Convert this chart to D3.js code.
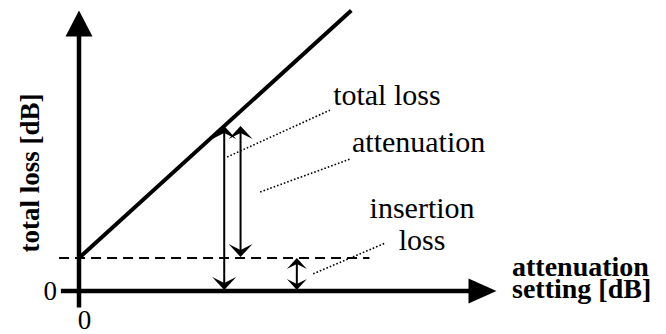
<!DOCTYPE html>
<html>
<head>
<meta charset="utf-8">
<script src="https://cdn.jsdelivr.net/npm/d3@7"></script>
</head>
<body style="margin:0; background:#fff">
<svg id="chart" width="666" height="334"></svg>
<script>
const WIDTH = 666;
const HEIGHT = 334;
const FONT = '"Liberation Serif", "Times New Roman"';

// values (attenuation setting in dB on x, total loss in dB on y)
const insertionLoss = 1;
const settingRange = [0, 7.5];          // extent of the total loss line
const axisExtentX = [-0.5, 11.5];
const axisExtentY = [-0.5, 8.5];
const xTicks = [0];
const yTicks = [0];
const dashedExtent = [-0.55, 8.0];      // insertion loss level line
const totalArrowAt = 4;                 // setting where total loss is shown
const attenArrowAt = 4.45;              // attenuation arrow, offset beside it
const insertionArrowAt = 6;

// annotation leaders: [from, to] in data units
const leaders = [
  [[4.08, 4.06], [6.91, 5.48]],
  [[4.99, 3.0], [7.47, 4.0]],
  [[6.45, 0.52], [8.43, 1.45]]
];
const labels = [
  { text: "total loss", at: [7.0, 5.64], anchor: "start" },
  { text: "attenuation", at: [7.52, 4.21], anchor: "start" },
  { text: "insertion", at: [9.45, 2.21], anchor: "middle" },
  { text: "loss", at: [9.45, 1.24], anchor: "middle" }
];

const svg = d3.select("#chart");

const xScale = d3.scaleLinear().domain([0, 11.5]).range([79, 496.5]);
const yScale = d3.scaleLinear().domain([0, 8.5]).range([291, 10.5]);

const line = d3.line().x((d) => xScale(d[0])).y((d) => yScale(d[1]));

// arrowhead shape, tip at origin pointing down
const head = (w, l, n) => `M0,0 L${-w},${-l} L0,${-n} L${w},${-l} Z`;

// insertion loss dashed level
svg.append("path")
  .attr("d", line([[dashedExtent[0], insertionLoss], [dashedExtent[1], insertionLoss]]))
  .attr("stroke", "#000").attr("stroke-width", 2)
  .attr("stroke-dasharray", "10,6").attr("fill", "none");

// total loss = insertion loss + setting
svg.append("path")
  .attr("d", line(settingRange.map((s) => [s, insertionLoss + s])))
  .attr("stroke", "#000").attr("stroke-width", 4).attr("fill", "none");

// axes lines with arrow tips
const xTip = xScale(axisExtentX[1]);
const yTip = yScale(axisExtentY[1]);
svg.append("line")
  .attr("x1", xScale(axisExtentX[0])).attr("x2", xTip - 26)
  .attr("y1", yScale(0)).attr("y2", yScale(0))
  .attr("stroke", "#000").attr("stroke-width", 4.5);
svg.append("path")
  .attr("d", `M${xTip},${yScale(0)} L${xTip - 28},${yScale(0) - 12.5} L${xTip - 28},${yScale(0) + 12.5} Z`);
svg.append("line")
  .attr("x1", xScale(0)).attr("x2", xScale(0))
  .attr("y1", yScale(axisExtentY[0])).attr("y2", yTip + 24)
  .attr("stroke", "#000").attr("stroke-width", 4.5);
svg.append("path")
  .attr("d", `M${xScale(0)},${yTip} L${xScale(0) - 13.5},${yTip + 26} L${xScale(0) + 13.5},${yTip + 26} Z`);

// tick labels
const xAxis = d3.axisBottom(xScale).tickValues(xTicks).tickSize(0).tickPadding(19);
const yAxis = d3.axisLeft(yScale).tickValues(yTicks).tickSize(0).tickPadding(22);
const gx = svg.append("g").attr("transform", `translate(0,${yScale(0)})`).call(xAxis);
const gy = svg.append("g").attr("transform", `translate(${xScale(0)},0)`).call(yAxis);
[gx, gy].forEach((g) => {
  g.attr("font-family", null);
  g.select(".domain").remove();
  g.selectAll("text").attr("font-size", 27).style("font-family", FONT);
});
gx.selectAll("text").attr("dx", 5);

// double arrows
const doubleArrow = (s, from, to, w, l, n) => {
  const x = xScale(s);
  const y1 = yScale(to);
  const y2 = yScale(from);
  svg.append("line")
    .attr("x1", x).attr("x2", x).attr("y1", y1 + 4).attr("y2", y2 - 4)
    .attr("stroke", "#000").attr("stroke-width", 2);
  svg.append("path").attr("d", head(w, l, n))
    .attr("transform", `translate(${x},${y2 - 1})`);
  svg.append("path").attr("d", head(w, l, n))
    .attr("transform", `translate(${x},${y1}) rotate(180)`);
};
doubleArrow(totalArrowAt, 0, insertionLoss + totalArrowAt, 12, 13, 7);
doubleArrow(attenArrowAt, insertionLoss, insertionLoss + totalArrowAt, 12, 13, 7);
doubleArrow(insertionArrowAt, 0, insertionLoss, 10, 11, 6);

// leader lines
svg.selectAll(".leader")
  .data(leaders)
  .enter()
  .append("path")
  .attr("class", "leader")
  .attr("d", (d) => line(d))
  .attr("stroke", "#000").attr("stroke-width", 1.6)
  .attr("stroke-dasharray", "1.6,2").attr("fill", "none");

svg.selectAll(".label")
  .data(labels)
  .enter()
  .append("text")
  .attr("class", "label")
  .attr("x", (d) => xScale(d.at[0]))
  .attr("y", (d) => yScale(d.at[1]))
  .attr("text-anchor", (d) => d.anchor)
  .attr("font-size", 30)
  .style("font-family", FONT)
  .text((d) => d.text);

// axis titles
svg.append("text")
  .attr("transform", "translate(39,173) rotate(-90)")
  .attr("text-anchor", "middle")
  .attr("font-size", 27)
  .attr("font-weight", "bold")
  .style("font-family", FONT)
  .text("total loss [dB]");

const xTitle = svg.append("text")
  .attr("font-size", 28)
  .attr("font-weight", "bold")
  .style("font-family", FONT);
xTitle.append("tspan").attr("x", 512).attr("y", 276).text("attenuation");
xTitle.append("tspan").attr("x", 512).attr("y", 298).text("setting [dB]");
</script>
</body>
</html>
